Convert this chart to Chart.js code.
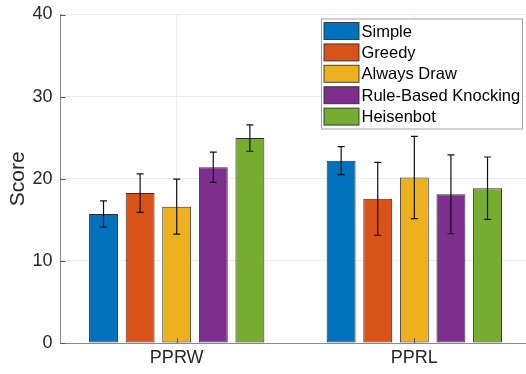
<!DOCTYPE html>
<html>
<head>
<meta charset="utf-8">
<script src="https://cdn.jsdelivr.net/npm/chart.js@4.4.1/dist/chart.umd.min.js"></script>
<style>
  html, body { margin: 0; padding: 0; background: #fff; overflow: hidden; }
  #wrap { width: 526px; height: 374px; position: relative; overflow: hidden; }
</style>
</head>
<body>
<div id="wrap"><canvas id="c" width="560" height="374"></canvas></div>
<script>
// ---- Data ----
const categories = ['PPRW', 'PPRL'];
const categoryPositions = [1, 2];
const seriesNames = ['Simple', 'Greedy', 'Always Draw', 'Rule-Based Knocking', 'Heisenbot'];
const simpleMeans = [15.7, 22.2];
const greedyMeans = [18.25, 17.55];
const alwaysDrawMeans = [16.6, 20.15];
const ruleBasedMeans = [21.4, 18.1];
const heisenbotMeans = [24.95, 18.85];
const simpleErr = [1.6, 1.7];
const greedyErr = [2.35, 4.45];
const alwaysDrawErr = [3.35, 5.0];
const ruleBasedErr = [1.85, 4.8];
const heisenbotErr = [1.6, 3.8];
const yTicks = [0, 10, 20, 30, 40];

const colors = ['#0072BD', '#D95319', '#EDB120', '#7E2F8E', '#77AC30'];
const meansList = [simpleMeans, greedyMeans, alwaysDrawMeans, ruleBasedMeans, heisenbotMeans];
const errList = [simpleErr, greedyErr, alwaysDrawErr, ruleBasedErr, heisenbotErr];

const FONT = "'Liberation Sans', Arial, Helvetica, sans-serif";

const datasets = seriesNames.map((name, i) => ({
  label: name,
  data: categoryPositions.map((x, j) => ({ x: x, y: meansList[i][j] })),
  errors: errList[i],
  backgroundColor: colors[i],
  borderColor: 'rgba(10,10,10,0.85)',
  borderWidth: 1,
  borderSkipped: false,
  categoryPercentage: 0.77,
  barPercentage: 0.79
}));

const extrasPlugin = {
  id: 'extras',
  afterDatasetsDraw(chart) {
    const ctx = chart.ctx;
    const ys = chart.scales.y;
    const xs = chart.scales.x;
    const area = chart.chartArea;
    ctx.save();
    // inside tick marks
    ctx.strokeStyle = '#555';
    ctx.lineWidth = 1;
    yTicks.forEach(v => {
      const py = Math.round(ys.getPixelForValue(v)) + 0.5;
      ctx.beginPath(); ctx.moveTo(area.left, py); ctx.lineTo(area.left + 5, py); ctx.stroke();
    });
    categoryPositions.forEach(v => {
      const px = Math.round(xs.getPixelForValue(v)) + 0.5;
      ctx.beginPath(); ctx.moveTo(px, area.bottom); ctx.lineTo(px, area.bottom - 5); ctx.stroke();
    });
    // error bars
    ctx.strokeStyle = '#111';
    ctx.lineWidth = 1.2;
    chart.data.datasets.forEach((ds, i) => {
      const meta = chart.getDatasetMeta(i);
      meta.data.forEach((bar, j) => {
        const v = ds.data[j].y;
        const e = ds.errors[j];
        const top = ys.getPixelForValue(v + e);
        const bot = ys.getPixelForValue(v - e);
        const x = bar.x;
        const cap = 3.5;
        ctx.beginPath();
        ctx.moveTo(x, top); ctx.lineTo(x, bot);
        ctx.moveTo(x - cap, top); ctx.lineTo(x + cap, top);
        ctx.moveTo(x - cap, bot); ctx.lineTo(x + cap, bot);
        ctx.stroke();
      });
    });
    ctx.restore();
  },
  afterDraw(chart) {
    // legend box inside the axes (top-right of the visible part)
    const ctx = chart.ctx;
    const area = chart.chartArea;
    const boxLeft = 321.5;
    const boxRight = 522.5;
    const boxTop = area.top + 4.5;
    const rowH = 21.4;
    const boxH = 110;
    ctx.save();
    ctx.fillStyle = '#fff';
    ctx.fillRect(boxLeft, boxTop, boxRight - boxLeft, boxH);
    ctx.strokeStyle = '#a0a0a0';
    ctx.lineWidth = 1;
    ctx.strokeRect(boxLeft, boxTop, boxRight - boxLeft, boxH);
    ctx.font = '16.5px ' + FONT;
    ctx.textBaseline = 'middle';
    ctx.textAlign = 'left';
    chart.data.datasets.forEach((ds, i) => {
      const cy = boxTop + 12 + i * rowH;
      ctx.fillStyle = ds.backgroundColor;
      ctx.fillRect(boxLeft + 2.5, cy - 8.5, 35, 17);
      ctx.strokeStyle = 'rgba(40,40,40,0.85)';
      ctx.strokeRect(boxLeft + 2.5, cy - 8.5, 35, 17);
      ctx.fillStyle = '#000';
      ctx.fillText(ds.label, boxLeft + 40, cy + 1);
    });
    ctx.restore();
  }
};

new Chart(document.getElementById('c'), {
  type: 'bar',
  data: { datasets: datasets },
  plugins: [extrasPlugin],
  options: {
    responsive: false,
    animation: false,
    devicePixelRatio: 1,
    layout: { padding: { top: 14.5, right: 0, left: 0, bottom: 0 } },
    plugins: { legend: { display: false }, tooltip: { enabled: false } },
    scales: {
      x: {
        type: 'linear',
        min: 0.511,
        max: 2.613,
        offset: false,
        afterBuildTicks(scale) { scale.ticks = categoryPositions.map(v => ({ value: v })); },
        afterFit(scale) { scale.height = 31; },
        ticks: {
          callback: (v) => categories[categoryPositions.indexOf(v)],
          font: { family: FONT, size: 18 },
          color: '#262626',
          padding: 4,
          maxRotation: 0,
          autoSkip: false
        },
        grid: { color: '#ebebeb', drawTicks: false, offset: false },
        border: { color: '#8a8a8a', width: 1 }
      },
      y: {
        min: 0,
        max: 40,
        afterBuildTicks(scale) { scale.ticks = yTicks.map(v => ({ value: v })); },
        afterFit(scale) { scale.width = 60.5; },
        ticks: {
          font: { family: FONT, size: 18, lineHeight: 0.6 },
          color: '#262626',
          padding: 8
        },
        title: {
          display: true,
          text: 'Score',
          font: { family: FONT, size: 21 },
          color: '#262626',
          padding: { top: 6, bottom: 0 }
        },
        grid: { color: '#ebebeb', drawTicks: false },
        border: { color: '#8a8a8a', width: 1 }
      }
    }
  }
});
</script>
</body>
</html>
